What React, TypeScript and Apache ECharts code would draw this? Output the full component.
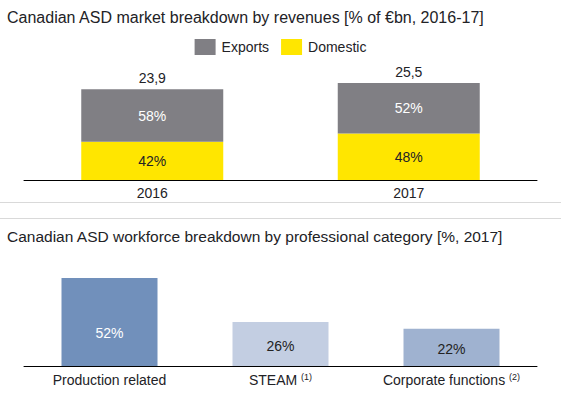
import React, { useEffect, useRef } from "react";
import * as echarts from "echarts";

const years = ["2016", "2017"];
const totals = [23.9, 25.5];
const domesticPct = [42, 48];
const exportsPct = [58, 52];

const categories = ["Production related", "STEAM", "Corporate functions"];
const footnotes = ["", "(1)", "(2)"];
const workforcePct = [52, 26, 22];
const workforceColors = ["#7190bb", "#c3cee2", "#9fb2d0"];
const workforceLabelColors = ["#ffffff", "#222222", "#222222"];
const workforceLabelY = ["62%", "55%", "54%"];

const FONT = "Liberation Sans, Arial, sans-serif";
const TEXT = "#222226";

export default function App() {
  const ref = useRef<HTMLDivElement>(null);
  useEffect(() => {
    document.body.style.margin = "0";
    const chart = echarts.init(ref.current!, undefined, { renderer: "svg" });
    const domesticVals = totals.map((t, i) => (t * domesticPct[i]) / 100);
    const exportsVals = totals.map((t, i) => (t * exportsPct[i]) / 100);
    chart.setOption({
      animation: false,
      textStyle: { fontFamily: FONT },
      title: [
        {
          text: "Canadian ASD market breakdown by revenues [% of €bn, 2016-17]",
          left: 7,
          top: 9,
          padding: 0,
          textStyle: { fontSize: 16, fontWeight: "normal", color: TEXT, fontFamily: FONT },
        },
        {
          text: "Canadian ASD workforce breakdown by professional category [%, 2017]",
          left: 7,
          top: 228.5,
          padding: 0,
          textStyle: { fontSize: 15.5, fontWeight: "normal", color: TEXT, fontFamily: FONT },
        },
      ],
      legend: {
        data: ["Exports", "Domestic"],
        left: "center",
        top: 39,
        padding: 0,
        icon: "rect",
        itemWidth: 21,
        itemHeight: 16,
        itemGap: 12,
        selectedMode: false,
        textStyle: { fontSize: 14, color: TEXT, fontFamily: FONT, padding: [0, 0, 0, 1] },
      },
      graphic: [
        { type: "line", shape: { x1: 0, y1: 202.5, x2: 561, y2: 202.5 }, style: { stroke: "#d9d9d9", lineWidth: 1 } },
        { type: "line", shape: { x1: 0, y1: 218.5, x2: 561, y2: 218.5 }, style: { stroke: "#d9d9d9", lineWidth: 1 } },
      ],
      grid: [
        { left: 24, right: 24, top: 66, height: 114 },
        { left: 24, right: 24, top: 264.5, height: 101.5 },
      ],
      xAxis: [
        {
          type: "category",
          gridIndex: 0,
          data: years,
          axisLine: { lineStyle: { color: "#000", width: 1 } },
          axisTick: { show: false },
          axisLabel: { fontSize: 14, color: TEXT, margin: 6, fontFamily: FONT, interval: 0 },
        },
        {
          type: "category",
          gridIndex: 1,
          data: categories,
          axisLine: { lineStyle: { color: "#000", width: 1 } },
          axisTick: { show: false },
          axisLabel: {
            fontSize: 14,
            color: TEXT,
            margin: 6,
            lineHeight: 16,
            interval: 0,
            hideOverlap: false,
            fontFamily: FONT,
            formatter: (v: string, i: number) => (footnotes[i] ? `${v} {sup|${footnotes[i]}}` : v),
            rich: {
              sup: { fontSize: 9, lineHeight: 10, verticalAlign: "top", color: TEXT, fontFamily: FONT },
            },
          },
        },
      ],
      yAxis: [
        { type: "value", gridIndex: 0, min: 0, max: 30, show: false },
        { type: "value", gridIndex: 1, min: 0, max: 60, show: false },
      ],
      series: [
        {
          name: "Total",
          type: "bar",
          xAxisIndex: 0,
          yAxisIndex: 0,
          barWidth: 142,
          barGap: "-100%",
          z: 1,
          data: totals,
          itemStyle: { color: "rgba(0,0,0,0)" },
          label: {
            show: true,
            position: "top",
            distance: 4,
            fontSize: 14,
            color: TEXT,
            fontFamily: FONT,
            formatter: (p: any) => totals[p.dataIndex].toFixed(1).replace(".", ","),
          },
        },
        {
          name: "Domestic",
          type: "bar",
          stack: "rev",
          xAxisIndex: 0,
          yAxisIndex: 0,
          barWidth: 142,
          barGap: "-100%",
          z: 2,
          data: domesticVals,
          itemStyle: { color: "#ffe600" },
          label: {
            show: true,
            position: "inside",
            fontSize: 14,
            color: TEXT,
            fontFamily: FONT,
            formatter: (p: any) => `${domesticPct[p.dataIndex]}%`,
          },
        },
        {
          name: "Exports",
          type: "bar",
          stack: "rev",
          xAxisIndex: 0,
          yAxisIndex: 0,
          barWidth: 142,
          barGap: "-100%",
          z: 2,
          data: exportsVals,
          itemStyle: { color: "#807f84" },
          label: {
            show: true,
            position: "inside",
            fontSize: 14,
            color: "#ffffff",
            fontFamily: FONT,
            formatter: (p: any) => `${exportsPct[p.dataIndex]}%`,
          },
        },
        {
          name: "Workforce",
          type: "bar",
          xAxisIndex: 1,
          yAxisIndex: 1,
          barWidth: 96,
          data: workforcePct.map((v, i) => ({
            value: v,
            itemStyle: { color: workforceColors[i] },
            label: {
              show: true,
              position: ["50%", workforceLabelY[i]],
              align: "center",
              verticalAlign: "middle",
              fontSize: 14,
              color: workforceLabelColors[i],
              fontFamily: FONT,
              formatter: `${v}%`,
            },
          })),
        },
      ],
    });
    return () => chart.dispose();
  }, []);
  return <div ref={ref} style={{ width: 561, height: 395 }} />;
}
